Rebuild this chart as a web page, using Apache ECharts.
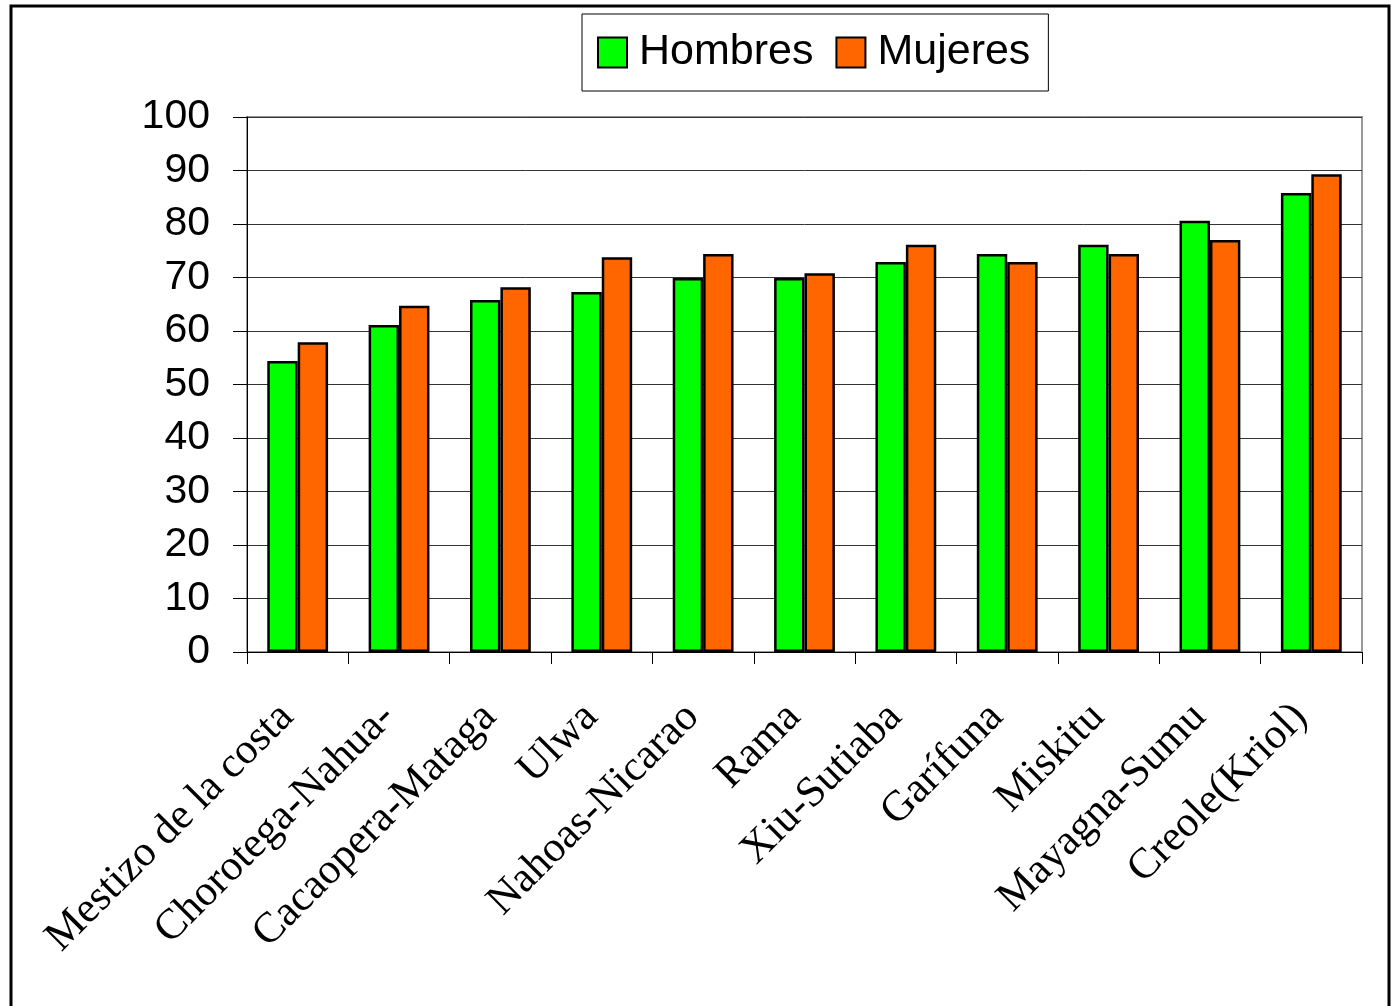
<!DOCTYPE html>
<html>
<head>
<meta charset="utf-8">
<script src="https://cdn.jsdelivr.net/npm/echarts@6/dist/echarts.min.js"></script>
<style>html,body{margin:0;padding:0;background:#fff;}#c{width:1392px;height:1006px;}</style>
</head>
<body>
<div id="c"></div>
<script>
const categories = ["Mestizo de la costa", "Chorotega-Nahua-", "Cacaopera-Mataga", "Ulwa", "Nahoas-Nicarao", "Rama", "Xiu-Sutiaba", "Garífuna", "Miskitu", "Mayagna-Sumu", "Creole(Kriol)"];
const hombres = [54.4, 61.1, 65.8, 67.3, 69.9, 69.9, 72.9, 74.4, 76.1, 80.6, 85.8];
const mujeres = [57.9, 64.7, 68.2, 73.8, 74.4, 70.8, 76.1, 72.9, 74.4, 77.0, 89.3];
const seriesNames = ["Hombres", "Mujeres"];

const chart = echarts.init(document.getElementById('c'), null, {renderer: 'canvas'});
chart.setOption({
  animation: false,
  backgroundColor: '#fff',
  graphic: [{
    type: 'rect', shape: {x: 11, y: 6, width: 1378, height: 1030},
    style: {fill: 'none', stroke: '#000', lineWidth: 3}, silent: true
  }],
  legend: {
    left: 582, top: 14,
    padding: [17, 18, 17, 15],
    borderColor: '#000', borderWidth: 1,
    itemWidth: 29, itemHeight: 30, itemGap: 22,
    icon: 'rect',
    textStyle: {fontFamily: 'Liberation Sans', fontSize: 43, color: '#000', padding: [0, 0, 0, 7]},
    data: seriesNames
  },
  grid: {
    left: 247, right: 30, top: 117, bottom: 354,
    show: true, borderColor: '#999', borderWidth: 2, backgroundColor: 'transparent'
  },
  xAxis: {
    type: 'category', data: categories,
    axisLine: {lineStyle: {color: '#000', width: 1}},
    axisTick: {show: true, length: 12, lineStyle: {color: '#000'}},
    axisLabel: {
      interval: 0, rotate: 45, margin: 48, padding: [0, 15, 0, 0],
      fontFamily: 'Liberation Serif', fontSize: 43, color: '#000'
    }
  },
  yAxis: {
    type: 'value', min: 0, max: 100, interval: 10,
    axisLine: {show: true, lineStyle: {color: '#000', width: 1}},
    axisTick: {show: true, length: 14, lineStyle: {color: '#000'}},
    axisLabel: {fontFamily: 'Liberation Sans', fontSize: 41, color: '#000', margin: 37},
    splitLine: {show: true, lineStyle: {color: '#333', width: 1}}
  },
  series: [
    {
      name: seriesNames[0], type: 'bar', data: hombres,
      barGap: '0%', barCategoryGap: '40%',
      itemStyle: {color: '#00ff00', borderColor: '#000', borderWidth: 2.5}
    },
    {
      name: seriesNames[1], type: 'bar', data: mujeres,
      barGap: '0%', barCategoryGap: '40%',
      itemStyle: {color: '#ff6600', borderColor: '#000', borderWidth: 2.5}
    }
  ]
});
</script>
</body>
</html>
